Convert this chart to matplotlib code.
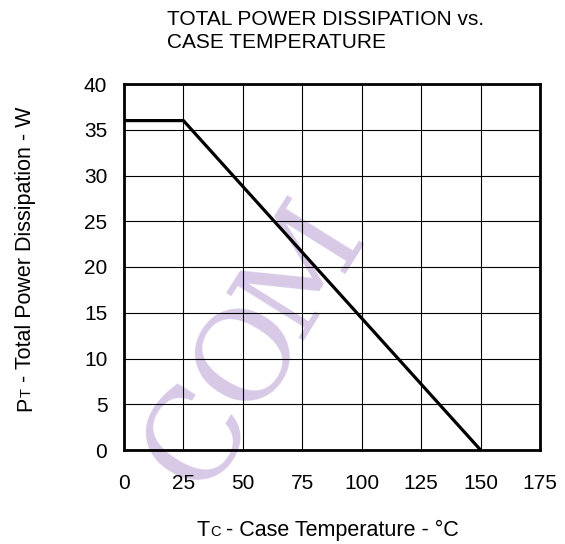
import matplotlib
matplotlib.use("Agg")
import numpy as np
import matplotlib.pyplot as plt

plt.rcParams['font.family'] = ['Liberation Sans', 'DejaVu Sans']

# Data
temp_c = [0, 25, 150]
power_w = [36, 36, 0]
x_ticks = [0, 25, 50, 75, 100, 125, 150, 175]
y_ticks = [0, 5, 10, 15, 20, 25, 30, 35, 40]
title_lines = ["TOTAL POWER DISSIPATION vs.", "CASE TEMPERATURE"]
xlabel_runs = [("T", 15.5), ("C", 10.5), (" - Case Temperature - °C", 15.5)]
ylabel_runs = [("P", 15.5), ("T", 10.5), (" - Total Power Dissipation - W", 15.5)]
watermark = "COM"

W, H = 565, 544
fig = plt.figure(figsize=(W / 100, H / 100), dpi=100)
ax = fig.add_axes([124 / W, 1 - 450 / H, 416 / W, 366 / H])

ax.set_xlim(0, 175)
ax.set_ylim(0, 40)
ax.set_xticks(x_ticks)
ax.set_yticks(y_ticks)
ax.tick_params(axis='x', length=0, pad=17, labelsize=15)
ax.tick_params(axis='y', length=0, pad=12, labelsize=15)
ax.grid(True, color='black', linewidth=0.8, zorder=1)
ax.set_axisbelow(True)
for s in ax.spines.values():
    s.set_linewidth(2.0)

ax.plot(temp_c, power_w, color='black', linewidth=2.3, solid_capstyle='butt',
        zorder=3)

# watermark letters (behind grid), pixel centres in image coords
wm_centres = [(198, 436), (249, 354), (302, 268)]
for ch, (px, py) in zip(watermark, wm_centres):
    ax.text(px / W, 1 - py / H, ch, rotation=58, color='#d8c9e7',
            fontsize=90, family='DejaVu Serif', ha='center', va='center',
            rotation_mode='anchor', transform=fig.transFigure, zorder=0.2,
            clip_on=False)

# title
fig.text(167 / W, 1 - 25 / H, title_lines[0], ha='left', va='baseline', fontsize=15)
fig.text(167 / W, 1 - 48 / H, title_lines[1], ha='left', va='baseline', fontsize=15)

renderer = fig.canvas.get_renderer()


def run_widths(runs):
    ws = []
    for s, size in runs:
        t = fig.text(0, 0, s, fontsize=size)
        ws.append(t.get_window_extent(renderer).width)
        t.remove()
    return ws


# x label: centred at x=328 px, baseline at y=536 px
ws = run_widths(xlabel_runs)
x0 = 328 - sum(ws) / 2
for (s, size), w in zip(xlabel_runs, ws):
    fig.text(x0 / W, 1 - 536 / H, s, fontsize=size, ha='left', va='baseline')
    x0 += w

# y label: rotated, baseline at x=31 px, centred at y=259 px
ws = run_widths(ylabel_runs)
y0 = 259 + sum(ws) / 2  # image coords (down), start at bottom
for (s, size), w in zip(ylabel_runs, ws):
    fig.text(31 / W, 1 - y0 / H, s, fontsize=size, ha='left', va='baseline',
             rotation=90, rotation_mode='anchor')
    y0 -= w

fig.savefig("out.png", dpi=100)
